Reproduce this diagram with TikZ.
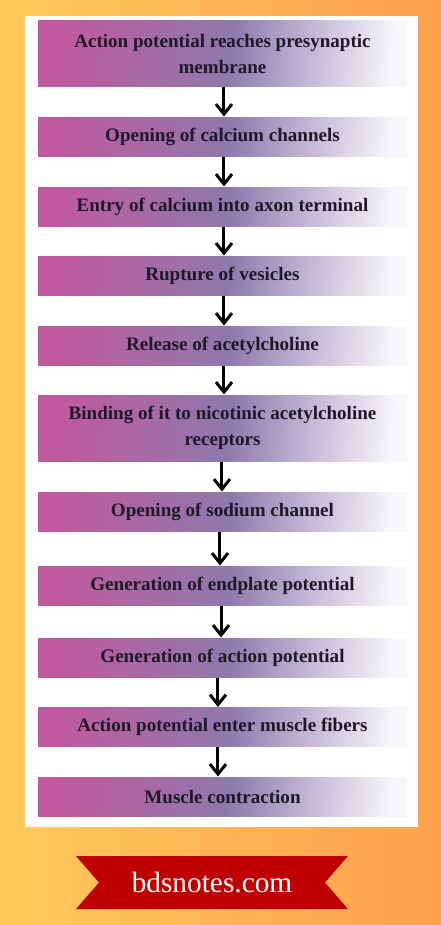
\documentclass[tikz,border=0pt]{standalone}
\usepackage{fontspec}
\setmainfont{Liberation Serif}
\usetikzlibrary{arrows.meta}

\definecolor{bgYellow}{RGB}{255,202,90}
\definecolor{bgOrange}{RGB}{252,160,78}
\definecolor{stepPink}{RGB}{194,88,158}
\definecolor{stepPurple}{RGB}{142,121,172}
\definecolor{stepLav}{RGB}{196,184,214}
\definecolor{stepWhite}{RGB}{248,246,251}
\definecolor{stepText}{RGB}{30,24,40}
\definecolor{ribbonRed}{RGB}{190,0,0}

\pgfdeclarehorizontalshading{stepshade}{100bp}{color(0bp)=(stepPink); color(25bp)=(stepPink); color(51bp)=(stepPurple); color(63bp)=(stepLav); color(75bp)=(stepWhite); color(100bp)=(stepWhite)}

\tikzset{every picture/.style={line width=0.75pt}}
\tikzset{
  stepbox/.style={shading=stepshade, shading angle=-6, minimum width=276.75pt, minimum height=29.25pt,
    inner sep=0pt, align=center, text=stepText, font=\fontsize{14.3}{19.5}\selectfont\bfseries},
  tallbox/.style={stepbox, minimum height=49.5pt},
  flowarrow/.style={line width=2.25pt, -{Straight Barb[length=7.5pt,width=12pt]}}
}

\begin{document}
\begin{tikzpicture}[x=0.75pt,y=0.75pt,yscale=-1,xscale=1]
\useasboundingbox (0,0) rectangle (441,925);
% Background
\shade[left color=bgYellow, right color=bgOrange] (0,0) rectangle (441,925);
% Shape: Rectangle
\fill[white] (25,16) rectangle (418,827);

% Text Node
\node[tallbox] (b1) at (222.5,53.5) {Action potential reaches presynaptic\\membrane};
% Text Node
\node[stepbox] (b2) at (222.5,136.5) {Opening of calcium channels};
% Text Node
\node[stepbox] (b3) at (222.5,206.5) {Entry of calcium into axon terminal};
% Text Node
\node[stepbox] (b4) at (222.5,275.5) {Rupture of vesicles};
% Text Node
\node[stepbox] (b5) at (222.5,345.5) {Release of acetylcholine};
% Text Node
\node[tallbox] (b6) at (222.5,428) {Binding of it to nicotinic acetylcholine\\receptors};
% Text Node
\node[stepbox] (b7) at (222.5,511.5) {Opening of sodium channel};
% Text Node
\node[stepbox] (b8) at (222.5,585.5) {Generation of endplate potential};
% Text Node
\node[stepbox] (b9) at (222.5,657.5) {Generation of action potential};
% Text Node
\node[stepbox] (b10) at (222.5,727) {Action potential enter muscle fibers};
% Text Node
\node[stepbox] (b11) at (222.5,796.5) {Muscle contraction};

% Arrows
\foreach \a/\b/\dx in {b1/b2/1.1, b2/b3/1.1, b3/b4/1.1, b4/b5/1.1, b5/b6/1.1,
    b6/b7/-0.4, b7/b8/-1.9, b8/b9/-1.1, b9/b10/-3.4, b10/b11/-3.4}
  \draw[flowarrow] ([xshift=\dx pt]\a.south) -- ([xshift=\dx pt]\b.north);

% Shape: Ribbon
\fill[ribbonRed] (76,856) -- (348,856) -- (325,882.5) -- (348,909) -- (76,909) -- (99,882.5) -- cycle;
% Text Node
\node[text=white, font=\fontsize{22}{26}\selectfont, inner sep=0pt] (site) at (212,882.5) {bdsnotes.com};
\end{tikzpicture}
\end{document}
